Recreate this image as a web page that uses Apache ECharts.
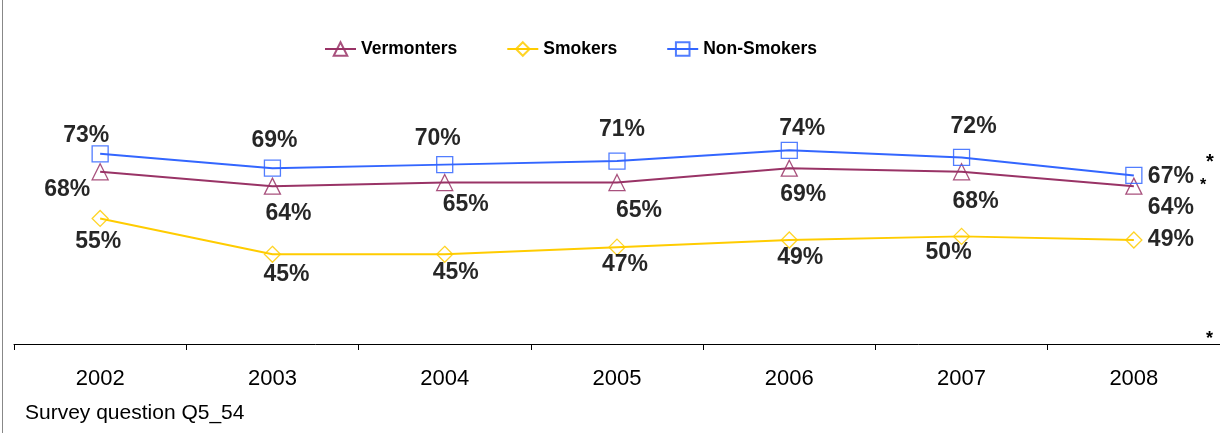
<!DOCTYPE html>
<html>
<head>
<meta charset="utf-8">
<script src="https://cdn.jsdelivr.net/npm/echarts@6/dist/echarts.min.js"></script>
<style>
  html, body { margin: 0; padding: 0; background: #fff; }
  #chart { width: 1220px; height: 433px; }
</style>
</head>
<body>
<div id="chart"></div>
<script>
// Survey results by year, in percent
const years = ['2002', '2003', '2004', '2005', '2006', '2007', '2008'];
const vermonters = [68, 64, 65, 65, 69, 68, 64];
const smokers = [55, 45, 45, 47, 49, 50, 49];
const nonSmokers = [73, 69, 70, 71, 74, 72, 67];

// Label nudges (px) so the value labels sit clear of the lines
const vermontersLabelShift = [[-33, 18], [16, 28], [21, 22], [22, 28], [14, 26], [14, 30], [37, 22]];
const smokersLabelShift = [[-2, 23], [14, 20], [11, 18], [8, 18], [11, 18], [-13, 16], [37, 0]];
const nonSmokersLabelShift = [[-14, -18], [2, -28], [-7, -26], [5, -31], [13, -22], [12, -31], [37, 1]];

const FONT = '"Liberation Sans", Arial, Helvetica, sans-serif';

function buildSeries(name, values, shifts, color, symbol) {
  return {
    name: name,
    type: 'line',
    data: values.map((v, i) => ({
      value: v,
      label: { offset: shifts[i] }
    })),
    symbol: symbol,
    symbolSize: 16,
    lineStyle: { color: color, width: 2 },
    itemStyle: { color: 'transparent', borderColor: color, borderWidth: 1.3, opacity: 0.85 },
    label: {
      show: true,
      position: 'inside',
      align: 'center',
      verticalAlign: 'middle',
      formatter: p => p.value + '%',
      color: '#000',
      fontFamily: FONT,
      fontWeight: 'bold',
      fontSize: 23
    },
    emphasis: { disabled: true },
    animation: false,
    z: 3
  };
}

const chart = echarts.init(document.getElementById('chart'), null, { renderer: 'canvas' });

chart.setOption({
  backgroundColor: '#fff',
  animation: false,
  legend: {
    left: 319,
    top: 35,
    itemWidth: 31,
    itemHeight: 17,
    itemGap: 49,
    textStyle: { fontFamily: FONT, fontWeight: 'bold', fontSize: 17.5, color: '#000' },
    data: ['Vermonters', 'Smokers', 'Non-Smokers']
  },
  grid: { left: 14, top: 57, width: 1210, height: 287, containLabel: false },
  xAxis: {
    type: 'category',
    data: years,
    boundaryGap: true,
    axisLine: { lineStyle: { color: '#000', width: 1 } },
    axisTick: { show: true, length: 6, interval: 0, lineStyle: { color: '#000' } },
    axisLabel: { fontFamily: FONT, fontSize: 22, color: '#000', margin: 24 },
    splitLine: { show: false }
  },
  yAxis: {
    type: 'value',
    min: 20,
    max: 100,
    show: false
  },
  series: [
    buildSeries('Vermonters', vermonters, vermontersLabelShift, '#993366', 'triangle'),
    buildSeries('Smokers', smokers, smokersLabelShift, '#FFCC00', 'diamond'),
    buildSeries('Non-Smokers', nonSmokers, nonSmokersLabelShift, '#3366FF', 'rect')
  ],
  graphic: [
    { type: 'line', shape: { x1: 2.5, y1: 0, x2: 2.5, y2: 433 }, style: { stroke: '#888', lineWidth: 1 } },
    { type: 'text', left: 25, top: 403, style: { text: 'Survey question Q5_54', fontFamily: FONT, fontSize: 21, fill: '#000' } },
    { type: 'text', left: 1206, top: 152, style: { text: '*', fontFamily: FONT, fontWeight: 'bold', fontSize: 20, fill: '#000' } },
    { type: 'text', left: 1200, top: 178, style: { text: '*', fontFamily: FONT, fontWeight: 'bold', fontSize: 16, fill: '#000' } },
    { type: 'text', left: 1206, top: 330, style: { text: '*', fontFamily: FONT, fontWeight: 'bold', fontSize: 18, fill: '#000' } }
  ]
});
</script>
</body>
</html>
